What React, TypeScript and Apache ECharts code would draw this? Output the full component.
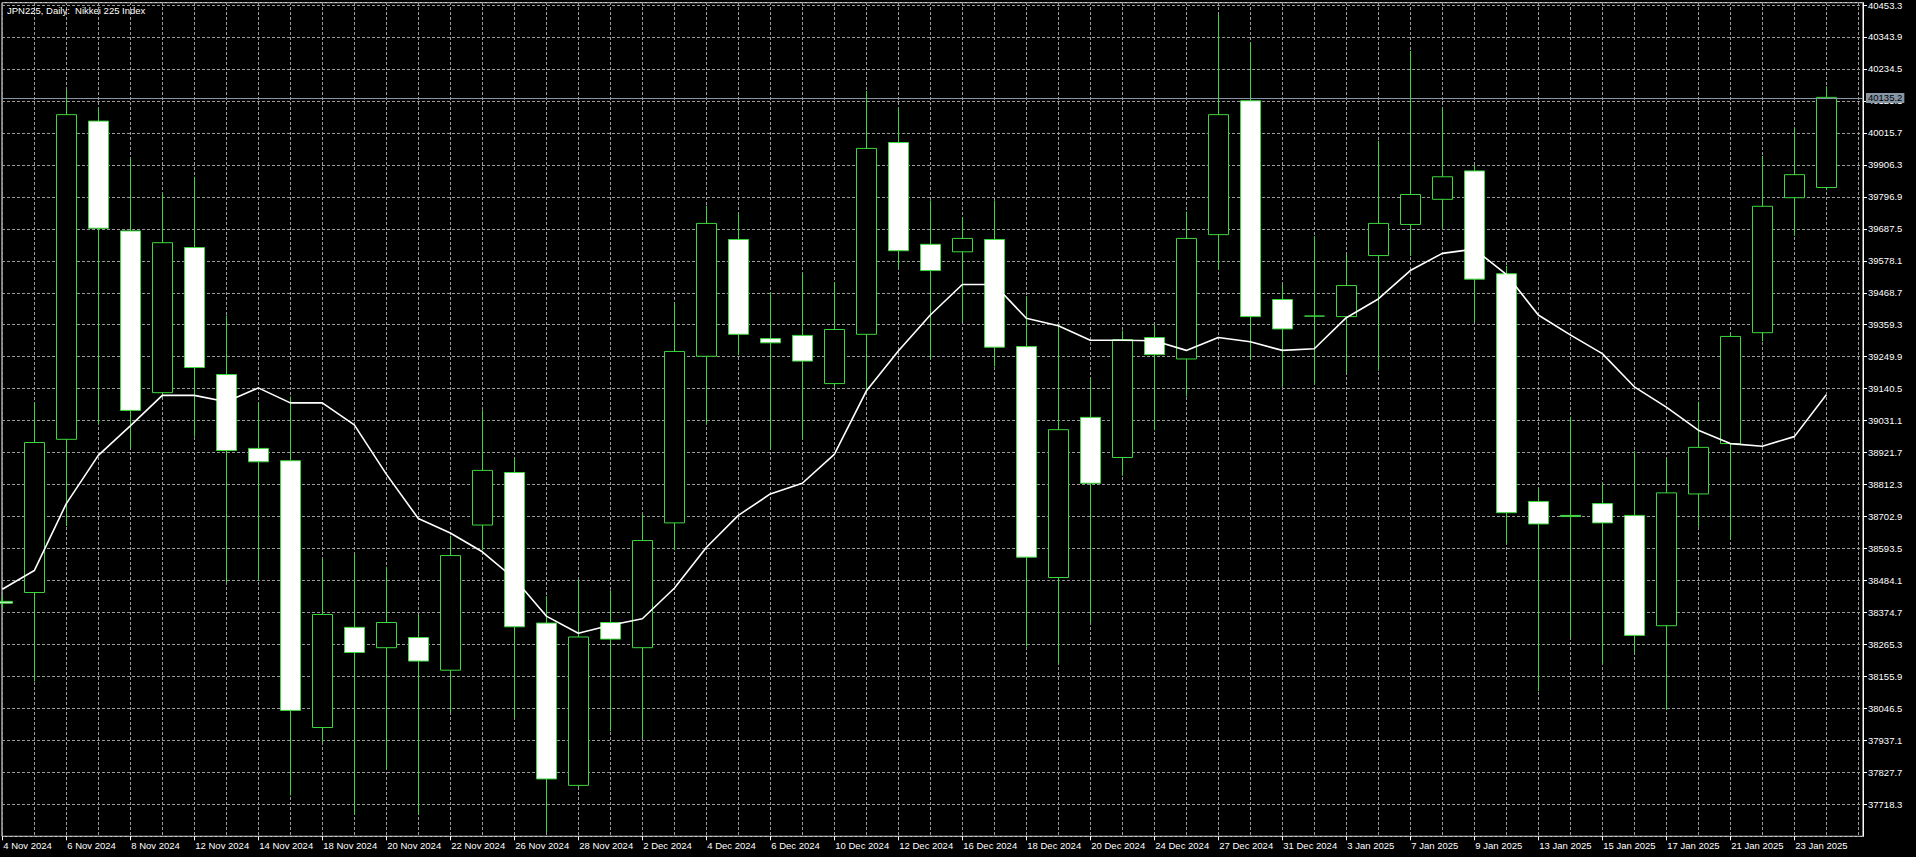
import React, { useEffect, useRef } from 'react';
import * as echarts from 'echarts';

const dates = [
  '4 Nov 2024', '5 Nov 2024', '6 Nov 2024', '7 Nov 2024', '8 Nov 2024', '11 Nov 2024', '12 Nov 2024', '13 Nov 2024',
  '14 Nov 2024', '15 Nov 2024', '18 Nov 2024', '19 Nov 2024', '20 Nov 2024', '21 Nov 2024', '22 Nov 2024', '25 Nov 2024',
  '26 Nov 2024', '27 Nov 2024', '28 Nov 2024', '29 Nov 2024', '2 Dec 2024', '3 Dec 2024', '4 Dec 2024', '5 Dec 2024',
  '6 Dec 2024', '9 Dec 2024', '10 Dec 2024', '11 Dec 2024', '12 Dec 2024', '13 Dec 2024', '16 Dec 2024', '17 Dec 2024',
  '18 Dec 2024', '19 Dec 2024', '20 Dec 2024', '23 Dec 2024', '24 Dec 2024', '26 Dec 2024', '27 Dec 2024', '30 Dec 2024',
  '31 Dec 2024', '2 Jan 2025', '3 Jan 2025', '6 Jan 2025', '7 Jan 2025', '8 Jan 2025', '9 Jan 2025', '10 Jan 2025',
  '13 Jan 2025', '14 Jan 2025', '15 Jan 2025', '16 Jan 2025', '17 Jan 2025', '20 Jan 2025', '21 Jan 2025', '22 Jan 2025',
  '23 Jan 2025', '24 Jan 2025',
];

const opens = [
  38412.0, 38442.3, 38966.1, 40054.0, 39678.6, 39125.5, 39621.8, 39187.7, 38935.0, 38892.9,
  37980.8, 38323.3, 38253.7, 38288.5, 38176.7, 38673.1, 38852.6, 38337.9, 37783.0, 38339.8,
  38253.7, 38680.4, 39250.0, 39649.3, 39310.4, 39321.4, 39156.6, 39325.1, 39980.8, 39632.8,
  39607.1, 39649.3, 39283.0, 38493.6, 39041.2, 38903.9, 39314.1, 39240.8, 39665.8, 40123.6,
  39444.1, 39387.4, 39385.5, 39594.3, 39700.6, 39786.6, 39883.7, 39532.1, 38753.7, 38706.0,
  38746.3, 38706.0, 38328.8, 38779.3, 38951.5, 39330.6, 39792.1, 39826.9,
];

const highs = [
  38430.0, 39090.7, 40160.3, 40098.0, 39924.0, 39806.8, 39863.6, 39389.2, 39090.7, 39112.6,
  38559.5, 38572.3, 38530.2, 38367.2, 38636.5, 39065.0, 38900.2, 38429.5, 38486.3, 38449.6,
  38709.7, 39431.3, 39764.7, 39739.0, 39469.8, 39533.9, 39502.8, 40156.6, 40098.0, 39783.0,
  39726.2, 39783.0, 39455.1, 39359.9, 39174.9, 39337.9, 39358.1, 39744.5, 40418.5, 40321.4,
  39495.4, 39660.3, 39596.2, 39986.3, 40294.0, 40098.0, 39903.8, 39559.5, 38797.6, 39043.0,
  38815.9, 38925.8, 38900.2, 39094.3, 39328.8, 39935.0, 40028.4, 40173.1,
];

const lows = [
  38390.0, 38138.3, 38669.4, 39017.4, 38936.8, 39110.0, 38975.3, 38477.1, 38484.4, 37748.2,
  37931.3, 37684.1, 37836.1, 37684.1, 38032.1, 38587.0, 38013.7, 37623.6, 37775.0, 37968.0,
  37944.1, 38587.0, 39017.4, 39253.7, 38933.2, 38966.1, 39145.6, 39134.6, 39552.2, 39240.8,
  39365.4, 39215.2, 38257.3, 38196.9, 38339.8, 38841.6, 38997.3, 39112.6, 39546.7, 39239.0,
  39145.6, 39152.9, 39193.2, 39200.6, 39592.5, 39685.9, 39365.4, 38607.1, 38105.3, 38288.5,
  38196.9, 38237.2, 38043.0, 38667.6, 38623.6, 39301.3, 39662.1, 39817.8,
];

const closes = [
  38406.0, 38955.1, 40076.0, 39687.7, 39065.0, 39638.3, 39211.5, 38927.7, 38889.2, 38039.4,
  38367.2, 38237.2, 38339.8, 38207.9, 38568.7, 38859.9, 38325.1, 37805.0, 38290.3, 38283.0,
  38620.0, 39266.5, 39704.2, 39325.1, 39295.8, 39233.5, 39341.6, 39960.6, 39610.8, 39543.0,
  39652.9, 39281.1, 38563.2, 38999.1, 38815.9, 39306.8, 39255.5, 39652.9, 40076.0, 39385.5,
  39343.4, 39387.4, 39491.8, 39704.2, 39803.1, 39863.6, 39513.7, 38715.2, 38676.7, 38702.0,
  38680.4, 38295.8, 38783.0, 38938.6, 39317.8, 39762.8, 39870.9, 40135.2,
];

const movingAverage = [
  38453.3, 38517.4, 38746.3, 38911.2, 39011.9, 39116.3, 39116.3, 39094.3, 39141.9, 39090.7,
  39090.7, 39015.6, 38847.1, 38695.1, 38645.6, 38581.5, 38489.9, 38361.7, 38303.1, 38330.6,
  38352.6, 38457.0, 38596.2, 38706.0, 38779.3, 38815.9, 38914.8, 39131.0, 39268.3, 39391.0,
  39495.4, 39495.4, 39380.0, 39354.4, 39304.9, 39304.9, 39303.0, 39270.1, 39314.1, 39299.5,
  39270.1, 39275.6, 39381.9, 39446.0, 39543.0, 39601.7, 39616.3, 39530.2, 39391.0, 39323.3,
  39259.2, 39145.6, 39076.0, 38997.3, 38951.5, 38942.3, 38975.3, 39118.1,
];

const lastPrice = 40135.2;
const priceMin = 37608.9;
const priceMax = 40461.16;
const priceStep = 109.4;
const chartTitle = 'JPN225, Daily:  Nikkei 225 Index';

const FONT = 'Liberation Sans';
const GREEN = '#3cd83c';
const GRID_COLOR = '#9a9a9a';
const PRICE_COLOR = '#8796a5';

export default function App() {
  const ref = useRef<HTMLDivElement>(null);

  useEffect(() => {
    document.body.style.margin = '0';
    const chart = echarts.init(ref.current!, null, { renderer: 'svg' });
    const categories = [...dates, ''];
    const candleData = opens.map((o, i) => [o, closes[i], lows[i], highs[i]]);
    const everyOther = (i: number, v: string) => i % 2 === 0 && v !== '';

    chart.setOption({
      animation: false,
      backgroundColor: '#000',
      graphic: [
        {
          type: 'text',
          x: 7,
          y: 10,
          z: 10,
          style: {
            text: chartTitle,
            fill: '#fff',
            font: `9.5px "${FONT}"`,
            textVerticalAlign: 'middle',
          },
        },
      ],
      grid: [
        {
          left: 2,
          top: 2,
          right: 53,
          bottom: 20.7,
          show: true,
          borderColor: '#fff',
          borderWidth: 1,
          backgroundColor: 'transparent',
        },
        {
          left: 2.3,
          top: 2,
          right: 57.7,
          bottom: 20.7,
        },
      ],
      xAxis: [
        { gridIndex: 0, type: 'value', min: 0, max: 1, show: false },
        {
          gridIndex: 1,
          type: 'category',
          data: categories,
          boundaryGap: false,
          axisLine: { show: false },
          axisTick: {
            show: true,
            interval: everyOther,
            length: 4,
            lineStyle: { color: '#fff', width: 1 },
          },
          axisLabel: {
            interval: everyOther,
            align: 'left',
            color: '#fff',
            fontSize: 9.5,
            fontFamily: FONT,
            margin: 4,
            padding: [0, 0, 0, 1],
          },
          splitLine: {
            show: true,
            interval: 0,
            lineStyle: { color: GRID_COLOR, width: 1, type: [3, 2] },
          },
        },
      ],
      yAxis: [
        { gridIndex: 1, type: 'value', min: priceMin, max: priceMax, show: false },
        { gridIndex: 0, type: 'value', min: priceMin, max: priceMax, show: false },
        {
          gridIndex: 0,
          type: 'value',
          position: 'right',
          min: 0,
          max: priceMax - priceMin,
          interval: priceStep,
          axisLine: { show: true, lineStyle: { color: '#fff', width: 1 } },
          axisTick: { show: true, length: 4, lineStyle: { color: '#fff', width: 1 } },
          axisLabel: {
            color: '#fff',
            fontSize: 9.5,
            fontFamily: FONT,
            margin: 5,
            showMinLabel: false,
            showMaxLabel: false,
            formatter: (v: number) => (v + priceMin).toFixed(1),
          },
          splitLine: {
            show: true,
            lineStyle: { color: GRID_COLOR, width: 1, type: [3, 2] },
          },
        },
      ],
      series: [
        {
          type: 'candlestick',
          name: 'JPN225',
          xAxisIndex: 1,
          yAxisIndex: 0,
          data: candleData,
          barWidth: 21,
          clip: true,
          z: 2,
          itemStyle: {
            color: '#000',
            color0: '#fff',
            borderColor: GREEN,
            borderColor0: GREEN,
            borderColorDoji: GREEN,
            borderWidth: 1,
          },
        },
        {
          type: 'line',
          name: 'MA',
          xAxisIndex: 1,
          yAxisIndex: 0,
          data: movingAverage,
          symbol: 'none',
          showSymbol: false,
          smooth: false,
          clip: true,
          z: 3,
          lineStyle: { color: '#fff', width: 1.6 },
        },
        {
          type: 'line',
          name: 'price',
          xAxisIndex: 0,
          yAxisIndex: 1,
          data: [[0, lastPrice]],
          symbol: 'none',
          showSymbol: false,
          silent: true,
          lineStyle: { opacity: 0 },
          z: 5,
          markLine: {
            silent: true,
            animation: false,
            symbol: ['none', 'none'],
            lineStyle: { color: PRICE_COLOR, width: 1, type: 'solid' },
            label: {
              show: true,
              position: 'end',
              distance: 3,
              formatter: lastPrice.toFixed(1),
              backgroundColor: PRICE_COLOR,
              color: '#000',
              fontSize: 9.5,
              fontFamily: FONT,
              lineHeight: 9,
              padding: [1, 2, 0, 2],
            },
            data: [{ yAxis: lastPrice }],
          },
        },
      ],
    });

    return () => chart.dispose();
  }, []);

  return (
    <div
      ref={ref}
      style={{ position: 'absolute', left: 0, top: 0, width: 1916, height: 857, background: '#000' }}
    />
  );
}
